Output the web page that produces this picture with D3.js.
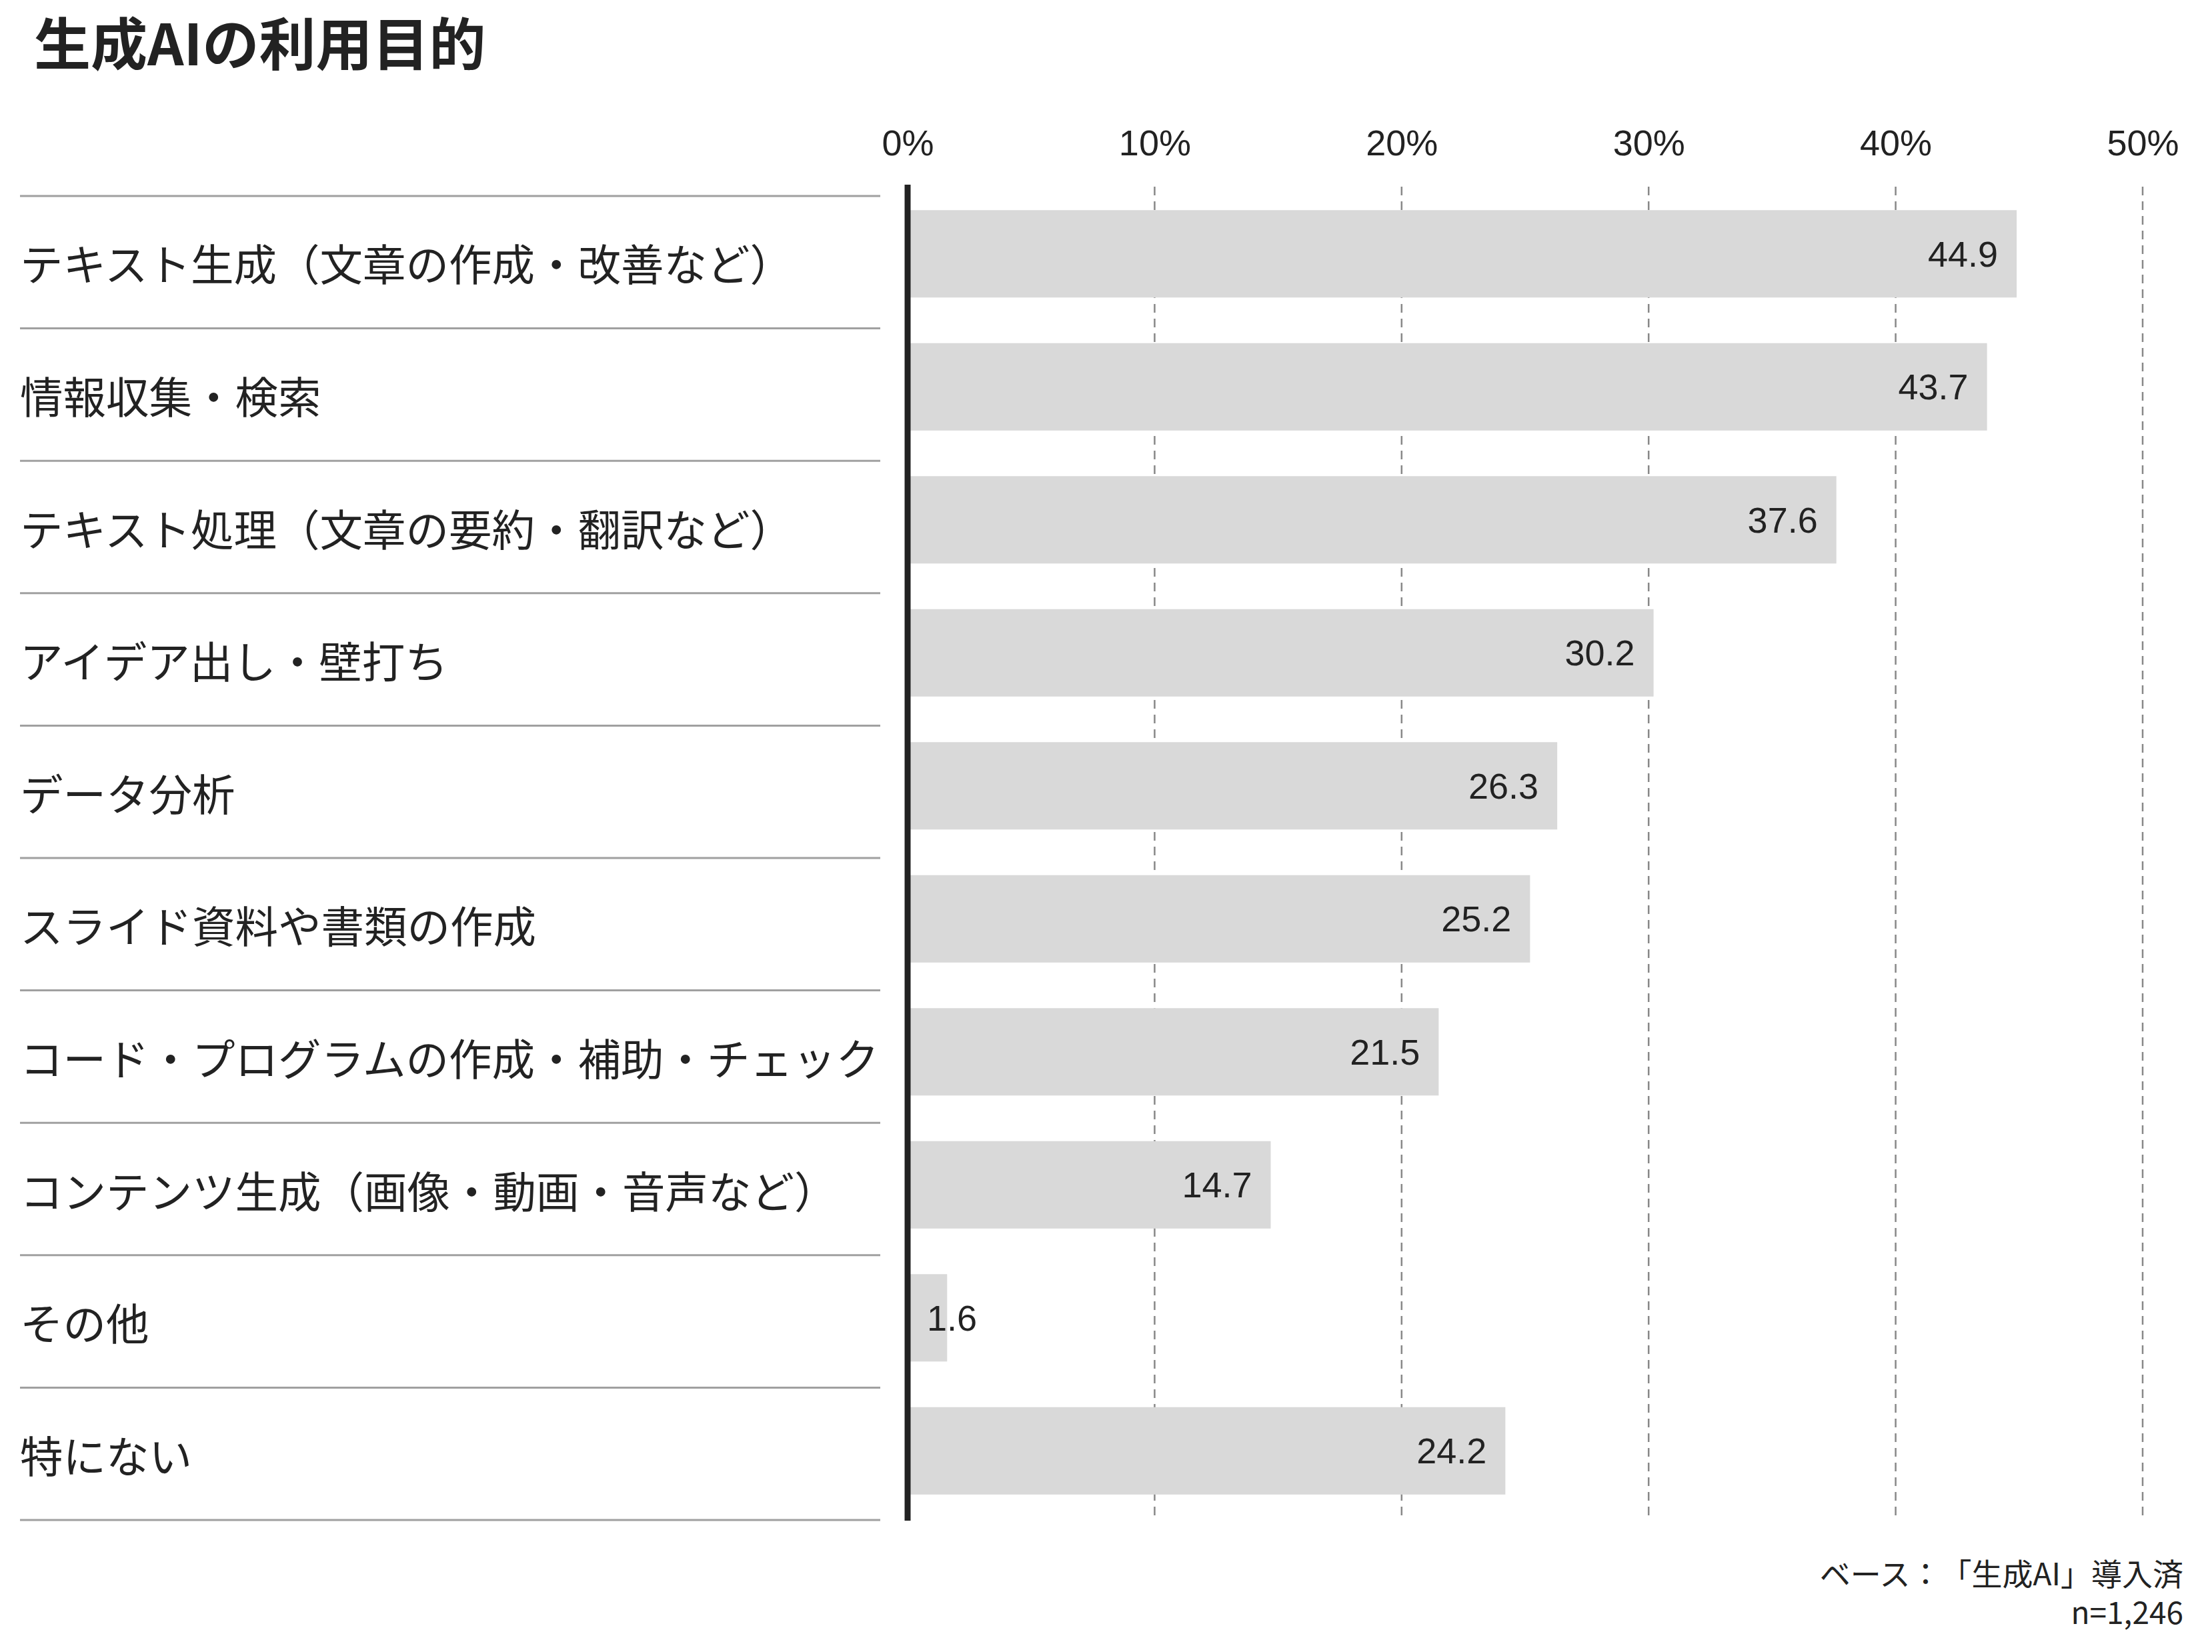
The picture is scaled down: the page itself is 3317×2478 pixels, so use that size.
<!DOCTYPE html>
<html><head><meta charset="utf-8">
<script src="https://cdn.jsdelivr.net/npm/d3@7"></script>
<style>body{margin:0;background:#fff} svg text{text-spacing-trim:space-all}</style>
</head><body><svg id="c"></svg>
<script>
const categories = [
  "テキスト生成（文章の作成・改善など）",
  "情報収集・検索",
  "テキスト処理（文章の要約・翻訳など）",
  "アイデア出し・壁打ち",
  "データ分析",
  "スライド資料や書類の作成",
  "コード・プログラムの作成・補助・チェック",
  "コンテンツ生成（画像・動画・音声など）",
  "その他",
  "特にない"
];
const values = [44.9, 43.7, 37.6, 30.2, 26.3, 25.2, 21.5, 14.7, 1.6, 24.2];
const tickValues = [0, 10, 20, 30, 40, 50];
const title = "生成AIの利用目的";
const footnotes = ["ベース：「生成AI」導入済", "n=1,246"];

const W = 3317, H = 2478;
const JP = "'Noto Sans CJK JP', 'Noto Sans', sans-serif";
const NUM = "'Liberation Sans', Arial, sans-serif";
const ink = "#222";

const svg = d3.select("#c").attr("width", W).attr("height", H);
svg.append("rect").attr("width", W).attr("height", H).attr("fill", "#fff");

const x = d3.scaleLinear().domain([0, 50]).range([1361, 3213]);
const yRow = d3.scaleBand().domain(categories).range([294, 2280]);
const yBar = d3.scaleBand().domain(categories).range([281, 2276])
  .paddingInner(0.343).paddingOuter(0.1715);

// title
svg.append("text").attr("x", 51).attr("y", 98)
  .attr("font-family", JP).attr("font-weight", 700).attr("font-size", 85)
  .attr("fill", ink).text(title);

// tick labels
const ax = svg.append("g").attr("transform", "translate(0,233)")
  .call(d3.axisTop(x).tickValues(tickValues).tickSize(0).tickPadding(0).tickFormat(d => d + "%"));
ax.select(".domain").remove();
ax.selectAll("text").attr("font-family", NUM).attr("font-size", 54).attr("fill", ink);

// gridlines
svg.append("g").selectAll("line").data(tickValues.filter(d => d > 0)).join("line")
  .attr("x1", d => x(d)).attr("x2", d => x(d))
  .attr("y1", 280).attr("y2", 2281)
  .attr("stroke", "#888").attr("stroke-width", 2.5).attr("stroke-dasharray", "13,9");

// row separators
const sepYs = categories.map(c => yRow(c)).concat([yRow.range()[1]]);
svg.append("g").selectAll("line").data(sepYs).join("line")
  .attr("x1", 30).attr("x2", 1320).attr("y1", d => d).attr("y2", d => d)
  .attr("stroke", "#a0a0a0").attr("stroke-width", 3);

// labels
svg.append("g").selectAll("text").data(categories).join("text")
  .attr("x", 30).attr("y", d => yRow(d) + yRow.bandwidth() / 2)
  .attr("dominant-baseline", "central")
  .attr("font-family", JP).attr("font-size", 64.5).attr("fill", ink)
  .text(d => d);

// bars
svg.append("g").selectAll("rect").data(values).join("rect")
  .attr("x", x(0)).attr("y", (d, i) => yBar(categories[i]))
  .attr("width", d => x(d) - x(0)).attr("height", yBar.bandwidth())
  .attr("fill", "#d9d9d9");

// value labels
const vl = svg.append("g").selectAll("text").data(values).join("text")
  .attr("y", (d, i) => yBar(categories[i]) + yBar.bandwidth() / 2)
  .attr("dominant-baseline", "central")
  .attr("font-family", NUM).attr("font-size", 54).attr("fill", ink)
  .text(d => d.toFixed(1));
vl.each(function(d) {
  const w = this.getComputedTextLength();
  const bw = x(d) - x(0);
  if (bw > w + 60) d3.select(this).attr("x", x(d) - 28).attr("text-anchor", "end");
  else d3.select(this).attr("x", x(0) + 29).attr("text-anchor", "start");
});

// zero axis line
svg.append("line").attr("x1", x(0)).attr("x2", x(0)).attr("y1", 277).attr("y2", 2281)
  .attr("stroke", ink).attr("stroke-width", 9);

// footnotes
svg.append("g").selectAll("text").data(footnotes).join("text")
  .attr("x", 3274).attr("y", (d, i) => 2378 + i * 58)
  .attr("text-anchor", "end")
  .attr("font-family", JP).attr("font-size", 46).attr("fill", ink)
  .text(d => d);
</script>
</body></html>
